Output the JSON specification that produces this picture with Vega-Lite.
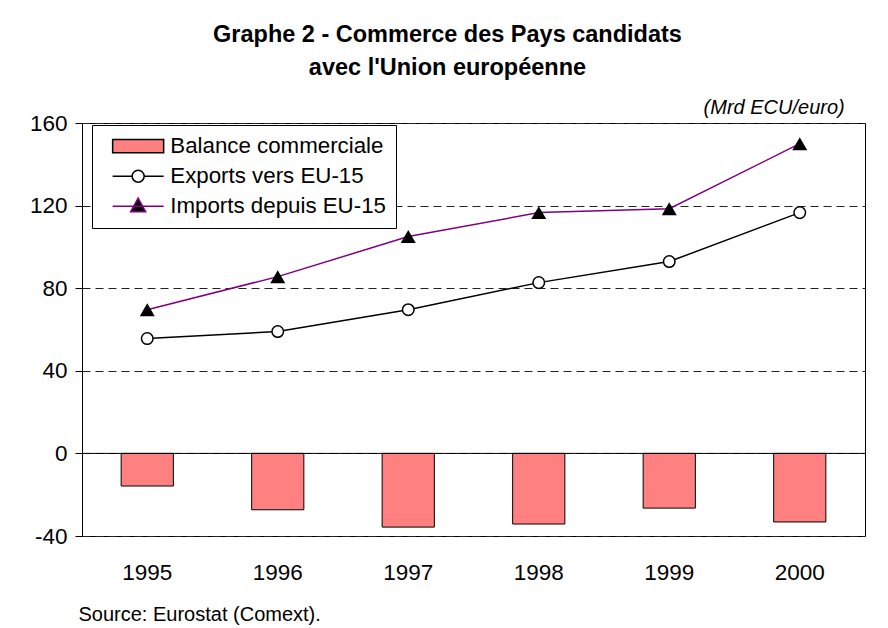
{
  "$schema": "https://vega.github.io/schema/vega-lite/v6.json",
  "width": 783,
  "height": 413,
  "autosize": {"type": "none"},
  "padding": {"left": 82, "top": 123, "right": 23, "bottom": 92},
  "background": "white",
  "title": {
    "text": ["Graphe 2 - Commerce des Pays candidats", "avec l'Union européenne"],
    "font": "Liberation Sans",
    "fontSize": 23.5,
    "fontWeight": "bold",
    "lineHeight": 33,
    "anchor": "middle",
    "frame": "bounds",
    "offset": 19,
    "color": "black"
  },
  "data": {
    "values": [
      {"year": "1995", "series": "Balance commerciale", "value": -15.8},
      {"year": "1996", "series": "Balance commerciale", "value": -27.3},
      {"year": "1997", "series": "Balance commerciale", "value": -35.7},
      {"year": "1998", "series": "Balance commerciale", "value": -34.2},
      {"year": "1999", "series": "Balance commerciale", "value": -26.5},
      {"year": "2000", "series": "Balance commerciale", "value": -33.2},
      {"year": "1995", "series": "Exports vers EU-15", "value": 55.6},
      {"year": "1996", "series": "Exports vers EU-15", "value": 59.0},
      {"year": "1997", "series": "Exports vers EU-15", "value": 69.6},
      {"year": "1998", "series": "Exports vers EU-15", "value": 82.7},
      {"year": "1999", "series": "Exports vers EU-15", "value": 92.9},
      {"year": "2000", "series": "Exports vers EU-15", "value": 116.6},
      {"year": "1995", "series": "Imports depuis EU-15", "value": 69.6},
      {"year": "1996", "series": "Imports depuis EU-15", "value": 85.6},
      {"year": "1997", "series": "Imports depuis EU-15", "value": 105.0},
      {"year": "1998", "series": "Imports depuis EU-15", "value": 116.6},
      {"year": "1999", "series": "Imports depuis EU-15", "value": 118.5},
      {"year": "2000", "series": "Imports depuis EU-15", "value": 150.0}
    ]
  },
  "config": {
    "font": "Liberation Sans",
    "view": {"stroke": "black", "strokeWidth": 1},
    "axis": {"labelFont": "Liberation Sans", "labelColor": "black", "titleColor": "black"},
    "legend": {
      "title": null,
      "orient": "none",
      "legendX": 10,
      "legendY": 2,
      "strokeColor": "black",
      "fillColor": "white",
      "padding": 10,
      "labelFont": "Liberation Sans",
      "labelFontSize": 22.3,
      "labelColor": "black",
      "labelLimit": 400,
      "symbolSize": 400,
      "symbolOffset": 25,
      "labelOffset": 21,
      "rowPadding": 7,
      "symbolOpacity": 1,
      "symbolFillColor": "white",
      "symbolStrokeColor": "black",
      "symbolStrokeWidth": 1.5
    }
  },
  "layer": [
    {
      "mark": {"type": "point", "opacity": 0},
      "encoding": {
        "x": {
          "field": "year",
          "type": "nominal",
          "scale": {"paddingInner": 0.6, "paddingOuter": 0.3},
          "axis": {
            "title": "Source: Eurostat (Comext).",
            "titleFont": "Liberation Sans",
            "titleFontSize": 20,
            "titleFontWeight": "normal",
            "titleAnchor": "start",
            "titleAlign": "left",
            "titleX": -4,
            "titlePadding": 21,
            "labelAngle": 0,
            "labelFontSize": 22.5,
            "labelPadding": 25,
            "ticks": false,
            "domain": false
          }
        },
        "y": {
          "field": "value",
          "type": "quantitative",
          "scale": {"domain": [-40, 160], "nice": false, "zero": false},
          "axis": {
            "title": null,
            "values": [-40, 0, 40, 80, 120, 160],
            "labelExpr": "'' + datum.value",
            "labelFontSize": 22.5,
            "labelPadding": 8,
            "tickSize": 7,
            "tickColor": "black",
            "domainColor": "black",
            "grid": true,
            "gridColor": "#222222",
            "gridDash": [8, 5],
            "gridWidth": 1
          }
        },
        "shape": {
          "field": "series",
          "type": "nominal",
          "scale": {
            "domain": ["Balance commerciale", "Exports vers EU-15", "Imports depuis EU-15"],
            "range": [
              "M-2.55,-0.665H2.55V0.665H-2.55Z",
              "M-2.55,0H-0.6M0.6,0H2.55M-0.6,0A0.6,0.6,0,1,0,0.6,0A0.6,0.6,0,1,0,-0.6,0",
              "M-2.55,0H2.55M0,-0.8L0.75,0.55L-0.75,0.55Z"
            ]
          }
        },
        "fill": {
          "field": "series",
          "type": "nominal",
          "scale": {
            "domain": ["Balance commerciale", "Exports vers EU-15", "Imports depuis EU-15"],
            "range": ["#FF8080", "#FFFFFF", "#000000"]
          }
        },
        "stroke": {
          "field": "series",
          "type": "nominal",
          "scale": {
            "domain": ["Balance commerciale", "Exports vers EU-15", "Imports depuis EU-15"],
            "range": ["#000000", "#000000", "#800080"]
          }
        }
      }
    },
    {
      "mark": {"type": "bar", "fill": "#FF8080", "stroke": "black", "strokeWidth": 1},
      "transform": [{"filter": "datum.series === 'Balance commerciale'"}],
      "encoding": {
        "x": {"field": "year", "type": "nominal"},
        "y": {"field": "value", "type": "quantitative"}
      }
    },
    {
      "data": {"values": [{"v": 0}]},
      "mark": {"type": "rule", "color": "black", "strokeWidth": 1},
      "encoding": {"y": {"field": "v", "type": "quantitative"}}
    },
    {
      "mark": {"type": "line", "strokeWidth": 1.5, "color": "black"},
      "transform": [{"filter": "datum.series === 'Exports vers EU-15'"}],
      "encoding": {
        "x": {"field": "year", "type": "nominal"},
        "y": {"field": "value", "type": "quantitative"}
      }
    },
    {
      "mark": {"type": "line", "strokeWidth": 1.5, "color": "#800080"},
      "transform": [{"filter": "datum.series === 'Imports depuis EU-15'"}],
      "encoding": {
        "x": {"field": "year", "type": "nominal"},
        "y": {"field": "value", "type": "quantitative"}
      }
    },
    {
      "mark": {"type": "point", "shape": "circle", "filled": true, "fill": "white", "stroke": "black", "strokeWidth": 1.5, "size": 133, "opacity": 1},
      "transform": [{"filter": "datum.series === 'Exports vers EU-15'"}],
      "encoding": {
        "x": {"field": "year", "type": "nominal"},
        "y": {"field": "value", "type": "quantitative"}
      }
    },
    {
      "mark": {"type": "point", "shape": "triangle-up", "filled": true, "fill": "black", "size": 225, "opacity": 1},
      "transform": [{"filter": "datum.series === 'Imports depuis EU-15'"}],
      "encoding": {
        "x": {"field": "year", "type": "nominal"},
        "y": {"field": "value", "type": "quantitative"}
      }
    },
    {
      "data": {"values": [{"year": "2000", "v": 160, "t": "(Mrd ECU/euro)"}]},
      "mark": {"type": "text", "align": "right", "baseline": "alphabetic", "dx": 45, "dy": -9, "fontStyle": "italic", "fontSize": 20, "font": "Liberation Sans", "color": "black"},
      "encoding": {
        "x": {"field": "year", "type": "nominal"},
        "y": {"field": "v", "type": "quantitative"},
        "text": {"field": "t"}
      }
    }
  ]
}
